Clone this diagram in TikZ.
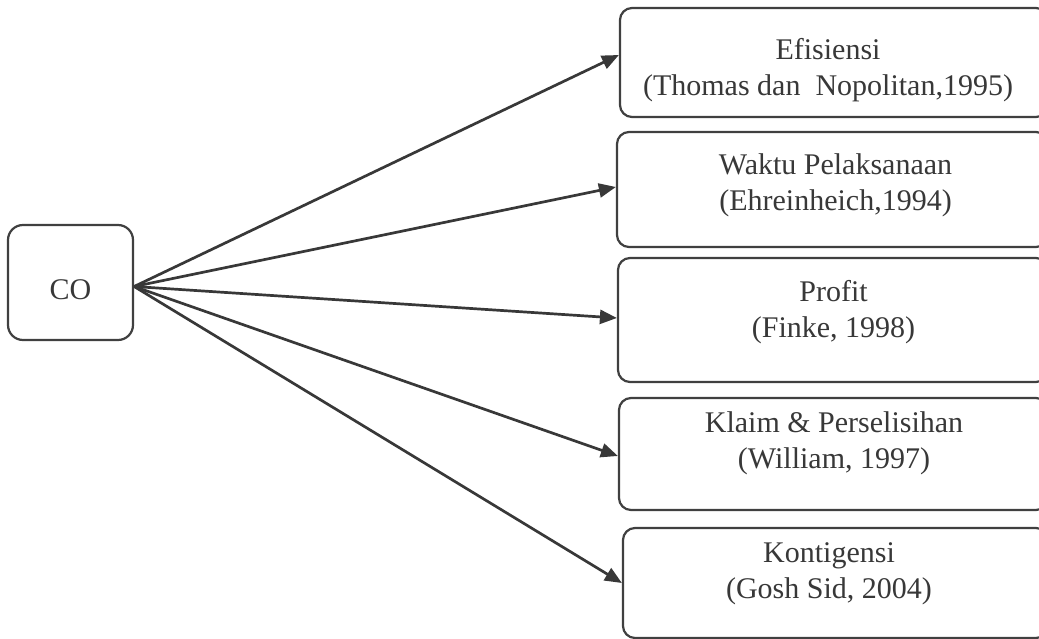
\documentclass[tikz,border=0pt]{standalone}
\usepackage{fontspec}
\setmainfont{Liberation Serif}
\usetikzlibrary{arrows.meta}
\definecolor{ink}{HTML}{383838}
\definecolor{edge}{HTML}{404040}
\tikzset{
  rbox/.style={draw=edge, line width=2.2pt, rounded corners=12pt, fill=white},
  cobox/.style={draw=edge, line width=2.2pt, rounded corners=15pt,
    minimum width=125pt, minimum height=115pt, inner sep=0pt,
    text=ink, font=\fontsize{30}{36}\selectfont, text height=34pt, text depth=0pt},
  lbl/.style={align=center, inner sep=0pt, text=ink, anchor=north,
    font=\fontsize{30}{36}\selectfont},
  link/.style={draw=ink, line width=2.7pt,
    -{Triangle[length=17pt,width=14pt]}}
}
\begin{document}
\begin{tikzpicture}[x=1pt,y=-1pt]
\useasboundingbox (0,0) rectangle (1039,639);

% source box
\node[cobox] (co) at (70.5,282.5) {CO};

% target boxes (their right ends run past the page edge)
\node[rbox, minimum width=428pt, minimum height=109pt] (b1) at (834,62.5) {};
\node[rbox, minimum width=431pt, minimum height=115pt] (b2) at (832.5,189.5) {};
\node[rbox, minimum width=430pt, minimum height=124pt] (b3) at (833,320) {};
\node[rbox, minimum width=429pt, minimum height=112pt] (b4) at (833.5,454) {};
\node[rbox, minimum width=425pt, minimum height=110pt] (b5) at (835.5,583) {};

% box captions
\node[lbl, xshift=-6pt, yshift=-26.8pt] (t1) at (b1.north) {\strut Efisiensi\\(Thomas dan\ \ Nopolitan,1995)};
\node[lbl, xshift=3pt, yshift=-17.8pt] (t2) at (b2.north) {\strut Waktu Pelaksanaan\\(Ehreinheich,1994)};
\node[lbl, xshift=0.5pt, yshift=-18.8pt] (t3) at (b3.north) {\strut Profit\\(Finke, 1998)};
\node[lbl, xshift=0.5pt, yshift=-9.8pt] (t4) at (b4.north) {\strut Klaim \& Perselisihan\\(William, 1997)};
\node[lbl, xshift=-6.5pt, yshift=-9.8pt] (t5) at (b5.north) {\strut Kontigensi\\(Gosh Sid, 2004)};

% connectors fanning out from CO
\draw[link] ([yshift=-4pt]co.east) -- ([yshift=7.5pt]b1.west);
\draw[link] ([yshift=-4pt]co.east) -- ([yshift=2.5pt]b2.west);
\draw[link] ([yshift=-4pt]co.east) -- ([yshift=2pt]b3.west);
\draw[link] ([yshift=-4pt]co.east) -- ([yshift=-2pt]b4.west);
\draw[link] ([yshift=-4pt]co.east) -- (b5.west);
\end{tikzpicture}
\end{document}
